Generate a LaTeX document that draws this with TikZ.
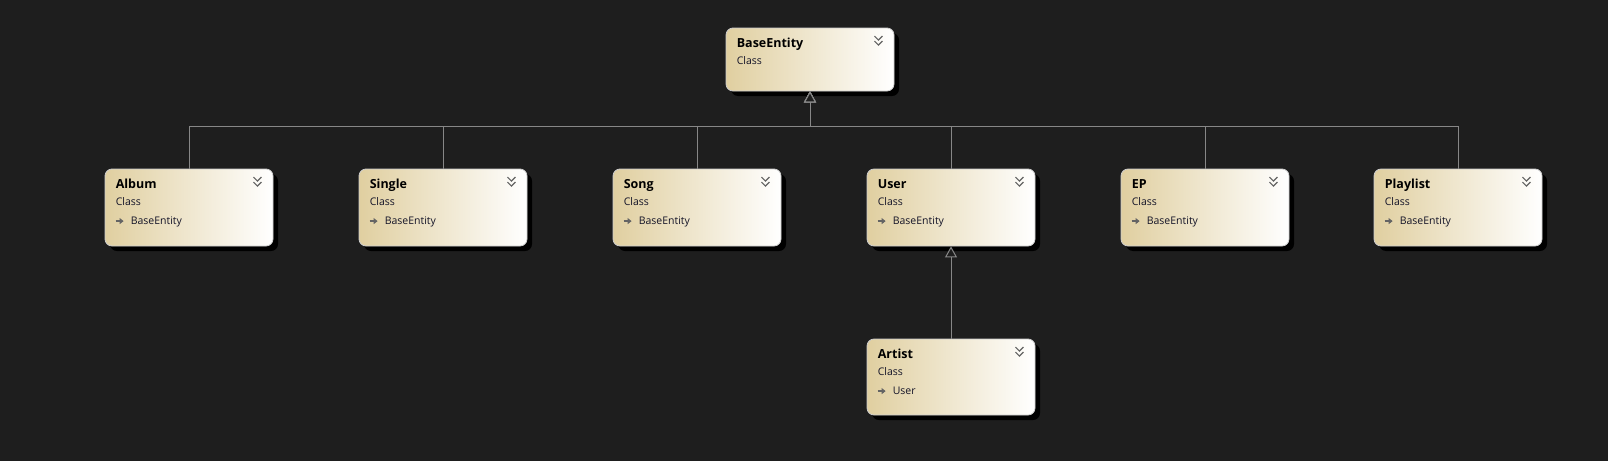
\documentclass[tikz,border=0pt]{standalone}
\usepackage{fontspec}
\setmainfont{Open Sans}
\usetikzlibrary{arrows.meta}
\definecolor{bg}{RGB}{30,30,30}
\definecolor{tan}{RGB}{224,207,160}
\definecolor{lin}{RGB}{135,135,135}
\definecolor{bord}{RGB}{205,205,205}
\definecolor{chev}{RGB}{100,100,100}
\definecolor{txt}{RGB}{20,20,40}
\tikzset{
  classbox/.style={rectangle, rounded corners=7pt, minimum width=168pt, left color=tan, right color=white, draw=bord, line width=0.8pt, inner sep=0pt},
  shadowbox/.style={rectangle, rounded corners=7pt, minimum width=168pt, fill=black, inner sep=0pt},
  ttl/.style={anchor=base west, inner sep=0pt, font=\bfseries\fontsize{12.5}{14}\selectfont, text=black},
  sub/.style={anchor=base west, inner sep=0pt, font=\fontsize{10.5}{12}\selectfont, text=txt},
  chevstyle/.style={draw=chev, line width=1.1pt},
  inh/.style={draw=lin, line width=1pt, -{Triangle[length=11pt,width=12pt,fill=bg,line width=1pt]}},
  icon/.style={draw=chev, line width=1.6pt, -{Triangle[length=4pt,width=6pt]}}
}
\newcommand\umlclass[5]{% name, cx, cy, height, title
  \node[shadowbox, minimum height=#4] (#1-sh) at (#2+5,#3+5) {};
  \node[classbox, minimum height=#4] (#1) at (#2,#3) {};
  \node[ttl] (#1-t) at ([shift={(11,19.5)}]#1.north west) {#5};
  \node[sub] (#1-c) at ([shift={(11,37)}]#1.north west) {Class};
  \coordinate (#1-v) at ([shift={(-16,13)}]#1.north east);
  \draw[chevstyle] ([shift={(-4,-4.5)}]#1-v) -- ([shift={(0,-0.5)}]#1-v) -- ([shift={(4,-4.5)}]#1-v);
  \draw[chevstyle] ([shift={(-4,0.5)}]#1-v) -- ([shift={(0,4.5)}]#1-v) -- ([shift={(4,0.5)}]#1-v);
}
\newcommand\parentline[2]{% name, parent text
  \coordinate (#1-i) at ([shift={(11,52.5)}]#1.north west);
  \draw[icon] (#1-i) -- ([xshift=8pt]#1-i);
  \node[sub] (#1-p) at ([shift={(26,56)}]#1.north west) {#2};
}
\begin{document}
\begin{tikzpicture}[x=1pt,y=-1pt]
\fill[bg] (0,0) rectangle (1608,461);
\useasboundingbox (0,0) rectangle (1608,461);
\umlclass{base}{810}{59.5}{63pt}{BaseEntity}
\umlclass{album}{189}{207.5}{77pt}{Album}\parentline{album}{BaseEntity}
\umlclass{single}{443}{207.5}{77pt}{Single}\parentline{single}{BaseEntity}
\umlclass{song}{697}{207.5}{77pt}{Song}\parentline{song}{BaseEntity}
\umlclass{user}{951}{207.5}{77pt}{User}\parentline{user}{BaseEntity}
\umlclass{ep}{1205}{207.5}{77pt}{EP}\parentline{ep}{BaseEntity}
\umlclass{playlist}{1458}{207.5}{77pt}{Playlist}\parentline{playlist}{BaseEntity}
\umlclass{artist}{951}{377}{76pt}{Artist}\parentline{artist}{User}
\coordinate (bus) at (810,126);
\foreach \c in {album,single,song,user,ep,playlist}{
  \draw[inh] (\c.north) |- (bus) -- (base.south);
}
\draw[inh] (artist.north) -- (user.south);
\end{tikzpicture}
\end{document}
